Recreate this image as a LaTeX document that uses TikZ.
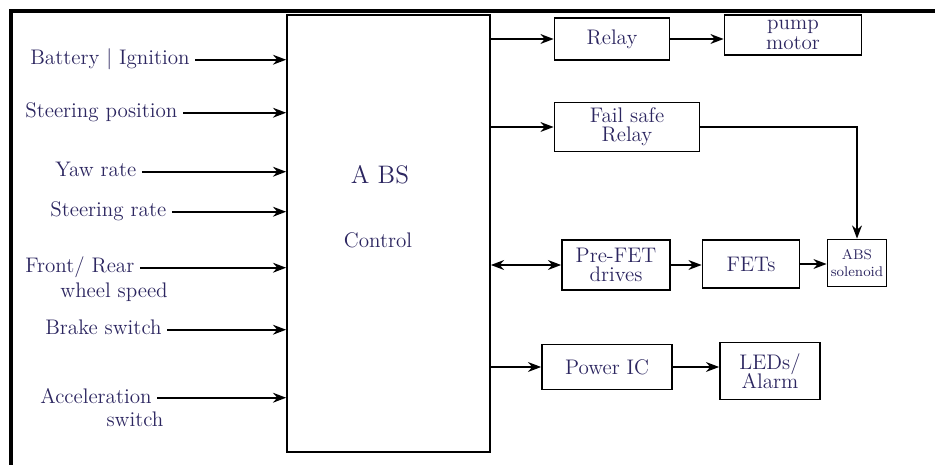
\documentclass[tikz,border=0pt]{standalone}
\usepackage{fontspec}
\usetikzlibrary{arrows.meta, positioning}
\definecolor{ink}{RGB}{44,38,96}

\begin{document}
\begin{tikzpicture}[>=Stealth, x=0.02cm, y=-0.02cm,
    blk/.style={draw, line width=1pt, align=center, font=\large,
                text=ink, inner sep=1pt},
    inlabel/.style={font=\large, text=ink, anchor=base west, inner sep=0pt},
    link/.style={->, line width=1pt}]
  \useasboundingbox (0,0) rectangle (935,465);
  % frame
  \draw[line width=2.4pt] (11,465) -- (11,11) -- (935,11);

  % control unit
  \node[draw, line width=1pt, minimum width=4.06cm, minimum height=8.74cm]
    (abs) at (388.5,233.5) {};
  \node[font=\Large, text=ink] (abstop) at (380,175) {A BS};
  \node[font=\large, text=ink] (absbot) at (378,240) {Control};

  % sensor inputs
  \foreach \n/\t/\x/\y in {bat/{Battery | Ignition}/30/65,
      steer/{Steering position}/25/118, yaw/{Yaw rate}/55/177,
      srate/{Steering rate}/50/217, front/{Front/ Rear}/25/273,
      brake/{Brake switch}/45/335, accel/{Acceleration}/40/403} {
    \node[inlabel] (\n) at (\x,\y) {\t};
    \coordinate (\n-s) at ([xshift=3pt, yshift=3pt]\n.base east);
    \draw[link] (\n-s) -- (\n-s -| abs.west);
  }
  \node[inlabel] (frontb) at (60,298) {wheel speed};
  \node[inlabel, anchor=base] (accelb) at (135,426) {switch};

  % output stages
  \foreach \n/\x/\y/\w/\h/\t in {relay/612/39/2.3/0.84/Relay,
      pump/793/35/2.74/0.8/{pump\\[-3pt]motor},
      failsafe/627/127/2.9/0.98/{Fail safe\\[-3pt]Relay},
      prefet/616/265/2.16/1.0/{Pre-FET\\[-3pt]drives},
      fets/751/264/1.94/0.96/FETs,
      power/607/367/2.6/0.9/{Power IC},
      leds/770/371/2.0/1.14/{LEDs/\\[-3pt]Alarm}} {
    \node[blk, minimum width=\w cm, minimum height=\h cm] (\n) at (\x,\y) {\t};
  }
  \node[blk, font=\footnotesize, minimum width=1.18cm, minimum height=0.94cm]
    (sol) at (857,263) {ABS\\solenoid};

  \draw[link] (relay.west -| abs.east) -- (relay.west);
  \draw[link] (relay.east) -- (relay.east -| pump.west);
  \draw[link] (failsafe.west -| abs.east) -- (failsafe.west);
  \draw[link] (failsafe.east) -| (sol.north);
  \draw[<->, line width=1pt] (prefet.west -| abs.east) -- (prefet.west);
  \draw[link] (prefet.east) -- (prefet.east -| fets.west);
  \draw[link] (fets.east) -- (fets.east -| sol.west);
  \draw[link] (power.west -| abs.east) -- (power.west);
  \draw[link] (power.east) -- (power.east -| leds.west);
\end{tikzpicture}
\end{document}
